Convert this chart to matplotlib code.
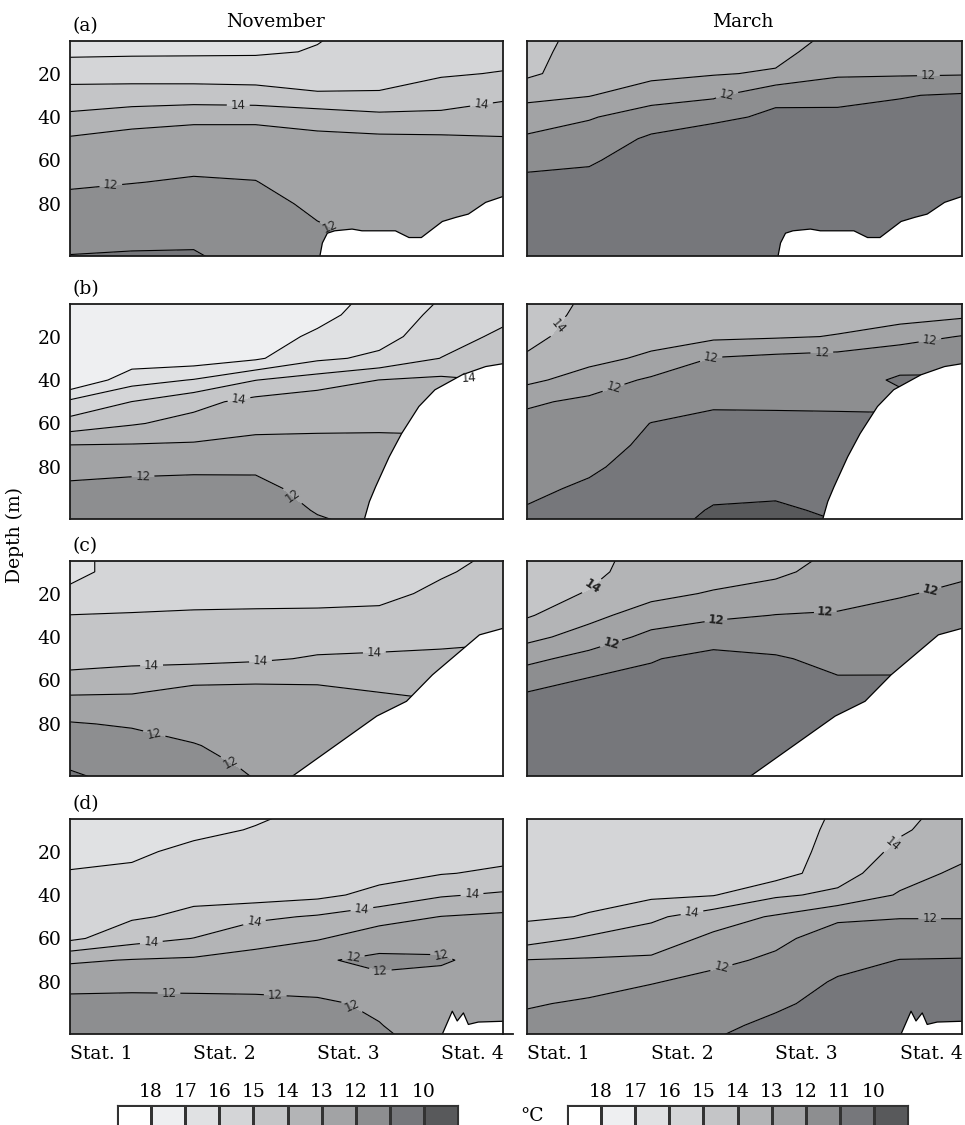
import numpy as np
import matplotlib
matplotlib.use("Agg")
import matplotlib.pyplot as plt
from matplotlib.colors import ListedColormap

plt.rcParams['font.family'] = 'DejaVu Serif'
plt.rcParams['font.size'] = 13.5

# grid: columns every half station, rows every 10 m
columns = [0.75, 1.25, 1.75, 2.25, 2.75, 3.25, 3.75, 4.25]
depths = [0, 10, 20, 30, 40, 50, 60, 70, 80, 90, 100, 110]
stations = [1, 2, 3, 4]
station_names = ["Stat. 1", "Stat. 2", "Stat. 3", "Stat. 4"]
depth_ticks = [20, 40, 60, 80]
levels = [10, 11, 12, 13, 14, 15, 16, 17, 18]
labelled = [12, 14]
# fill shades from <10 up to >18
shades = ['#58595b', '#76777b', '#8d8e90', '#a2a3a5', '#b3b4b6',
          '#c4c5c7', '#d4d5d7', '#e0e1e3', '#eeeff1', '#ffffff']

# temperature (degC), one profile per grid column, surface to 110 m
nov_a = [
    [16.9, 16.2, 15.4, 14.6, 13.8, 12.9, 12.5, 12.1, 11.8, 11.4, 11.1, 10.8],
    [16.9, 16.15, 15.4, 14.55, 13.5, 12.6, 12.3, 12.02, 11.7, 11.35, 11.05, 10.75],
    [16.9, 16.13, 15.42, 14.53, 13.3, 12.45, 12.19, 11.93, 11.63, 11.33, 11.03, 10.75],
    [16.9, 16.11, 15.44, 14.6, 13.3, 12.45, 12.22, 11.98, 11.75, 11.55, 11.35, 11.2],
    [16.1, 15.95, 15.44, 14.9, 13.45, 12.75, 12.55, 12.35, 12.15, 11.96, 11.76, 11.56],
    [15.8, 15.58, 15.35, 14.9, 13.74, 12.8, 12.65, 12.5, 12.35, 12.2, 12.05, 11.9],
    [15.7, 15.4, 15.1, 14.52, 13.77, 12.83, 12.68, 12.53, 12.38, 12.23, 12.08, 11.93],
    [15.7, 15.34, 14.95, 14.18, 13.54, 12.94, 12.8, 12.65, 12.5, 12.35, 12.2, 12.05],
]
mar_a = [
    [14.3, 14.25, 14.2, 13.26, 12.51, 11.86, 11.24, 10.8, 10.6, 10.45, 10.3, 10.15],
    [13.8, 13.65, 13.4, 13.05, 12.08, 11.55, 11.06, 10.85, 10.7, 10.55, 10.4, 10.25],
    [13.7, 13.5, 13.3, 12.4, 11.54, 10.85, 10.75, 10.65, 10.5, 10.4, 10.3, 10.2],
    [13.6, 13.4, 13.07, 12.16, 11.19, 10.55, 10.5, 10.45, 10.4, 10.35, 10.3, 10.25],
    [13.5, 13.3, 12.9, 11.2, 10.85, 10.75, 10.65, 10.55, 10.45, 10.4, 10.35, 10.3],
    [12.9, 12.5, 12.15, 11.25, 10.8, 10.75, 10.7, 10.6, 10.55, 10.5, 10.45, 10.4],
    [12.8, 12.5, 12.12, 11.05, 10.75, 10.7, 10.65, 10.6, 10.55, 10.5, 10.45, 10.4],
    [12.7, 12.45, 12.08, 10.9, 10.75, 10.7, 10.65, 10.6, 10.55, 10.5, 10.45, 10.4],
]
nov_b = [
    [17.8, 17.85, 17.9, 17.9, 17.95, 15.8, 14.62, 12.98, 12.36, 11.8, 11.6, 11.4],
    [17.8, 17.75, 17.7, 17.6, 16.4, 14.99, 14.09, 12.94, 12.25, 11.7, 11.5, 11.3],
    [17.75, 17.7, 17.65, 17.57, 15.95, 14.3, 13.68, 12.89, 12.17, 11.7, 11.5, 11.3],
    [17.7, 17.6, 17.4, 17.15, 15.02, 13.7, 13.29, 12.73, 12.15, 11.75, 11.6, 11.45],
    [17.5, 17.25, 16.85, 16.19, 14.54, 13.4, 13.15, 12.82, 12.56, 12.31, 12.05, 11.8],
    [16.8, 16.6, 16.35, 15.8, 13.99, 13.55, 13.11, 12.85, 12.65, 12.45, 12.25, 12.05],
    [16.05, 15.75, 15.45, 14.98, 13.8, 13.4, 13.1, 12.9, 12.7, 12.5, 12.3, 12.1],
    [15.8, 15.25, 14.8, 14.4, 14.05, 13.6, 13.2, 12.95, 12.75, 12.55, 12.35, 12.15],
]
mar_b = [
    [14.6, 14.45, 14.3, 13.87, 13.24, 12.15, 11.7, 11.55, 11.4, 11.2, 10.93, 10.7],
    [13.9, 13.75, 13.5, 13.32, 12.52, 11.8, 11.6, 11.4, 11.15, 10.85, 10.6, 10.4],
    [13.8, 13.6, 13.4, 12.8, 11.85, 11.45, 10.98, 10.8, 10.6, 10.45, 10.3, 10.2],
    [13.7, 13.5, 13.2, 11.95, 11.55, 11.1, 10.83, 10.6, 10.4, 10.15, 9.95, 9.75],
    [13.6, 13.4, 13.1, 11.75, 11.45, 11.1, 10.85, 10.62, 10.4, 10.13, 9.9, 9.7],
    [13.5, 13.3, 12.96, 11.6, 11.35, 11.08, 10.9, 10.7, 10.5, 10.3, 10.1, 9.9],
    [13.6, 13.45, 12.4, 11.35, 10.9, 11.2, 10.8, 10.6, 10.4, 10.2, 9.98, 9.8],
    [13.4, 13.2, 11.95, 11.3, 10.9, 11.1, 10.8, 10.6, 10.4, 10.2, 9.98, 9.8],
]
nov_c = [
    [16.1, 16.2, 15.85, 14.98, 14.7, 14.4, 13.63, 12.7, 11.93, 11.5, 11.05, 10.65],
    [15.85, 15.7, 15.35, 14.95, 14.6, 14.25, 13.5, 12.7, 12.1, 11.6, 11.3, 11.05],
    [15.85, 15.65, 15.3, 14.9, 14.5, 14.3, 13.1, 12.65, 12.35, 11.95, 11.6, 11.3],
    [15.85, 15.6, 15.28, 14.88, 14.5, 14.15, 13.05, 12.75, 12.55, 12.35, 12.15, 11.9],
    [15.85, 15.6, 15.28, 14.86, 14.45, 13.9, 13.05, 12.8, 12.6, 12.4, 12.2, 12.02],
    [15.8, 15.55, 15.25, 14.8, 14.35, 13.85, 13.3, 12.75, 12.5, 12.3, 12.1, 11.9],
    [15.4, 15.1, 14.8, 14.55, 14.25, 13.8, 13.4, 12.95, 12.7, 12.5, 12.3, 12.1],
    [14.9, 14.7, 14.5, 14.3, 14.1, 13.8, 13.4, 13.05, 12.8, 12.6, 12.4, 12.2],
]
mar_c = [
    [14.6, 14.45, 14.3, 14.1, 13.3, 12.25, 11.4, 10.65, 10.5, 10.4, 10.3, 10.2],
    [14.2, 14.2, 13.95, 13.3, 12.55, 11.65, 10.9, 10.7, 10.55, 10.45, 10.35, 10.25],
    [13.8, 13.6, 13.3, 12.5, 11.75, 11.05, 10.8, 10.65, 10.5, 10.4, 10.3, 10.2],
    [13.7, 13.5, 12.9, 12.2, 11.35, 10.75, 10.6, 10.5, 10.4, 10.35, 10.3, 10.25],
    [13.55, 13.2, 12.6, 11.98, 11.45, 10.9, 10.75, 10.6, 10.5, 10.4, 10.3, 10.25],
    [12.9, 12.6, 12.3, 11.93, 11.6, 11.25, 10.92, 10.75, 10.6, 10.5, 10.4, 10.3],
    [12.8, 12.55, 12.1, 11.6, 11.35, 11.15, 10.95, 10.8, 10.65, 10.55, 10.45, 10.35],
    [12.6, 12.2, 11.75, 11.5, 11.3, 11.1, 10.9, 10.8, 10.65, 10.55, 10.45, 10.35],
]
nov_d = [
    [16.8, 16.55, 16.25, 15.95, 15.7, 15.45, 15.2, 13.15, 12.25, 11.8, 11.55, 11.35],
    [16.8, 16.5, 16.15, 15.85, 15.5, 15.12, 14.4, 12.95, 12.25, 11.75, 11.55, 11.35],
    [16.6, 16.2, 15.8, 15.5, 15.22, 14.8, 13.98, 12.85, 12.28, 11.75, 11.55, 11.35],
    [16.2, 15.95, 15.8, 15.65, 15.45, 14.2, 13.3, 12.7, 12.2, 11.85, 11.6, 11.4],
    [15.9, 15.75, 15.6, 15.45, 15.25, 13.9, 13.08, 12.1, 12.25, 11.9, 11.65, 11.45],
    [15.85, 15.7, 15.5, 15.35, 14.7, 13.4, 12.45, 11.8, 12.2, 12.1, 11.98, 11.8],
    [15.8, 15.6, 15.4, 15.05, 14.1, 12.98, 12.3, 11.9, 12.3, 12.35, 12.3, 12.2],
    [15.75, 15.55, 15.3, 14.85, 13.85, 12.8, 12.5, 12.35, 12.4, 12.4, 12.35, 12.3],
]
mar_d = [
    [15.8, 15.7, 15.6, 15.5, 15.35, 15.15, 14.45, 12.97, 12.55, 12.1, 11.7, 11.3],
    [15.8, 15.65, 15.5, 15.35, 15.2, 14.95, 13.85, 12.9, 12.4, 11.85, 11.5, 11.2],
    [15.8, 15.6, 15.45, 15.3, 15.2, 14.2, 13.5, 12.85, 12.05, 11.6, 11.3, 11.05],
    [15.75, 15.6, 15.45, 15.3, 15.05, 13.45, 12.8, 12.2, 11.75, 11.45, 11.2, 10.9],
    [15.7, 15.62, 15.55, 15.45, 14.15, 12.9, 12.2, 11.85, 11.5, 11.15, 10.8, 10.5],
    [14.9, 14.75, 14.6, 14.4, 13.8, 12.15, 11.6, 11.3, 10.9, 10.7, 10.5, 10.3],
    [14.15, 14.1, 13.8, 13.4, 12.9, 12.05, 11.5, 10.98, 10.75, 10.6, 10.45, 10.3],
    [13.85, 13.6, 13.25, 12.8, 12.45, 12.05, 11.5, 10.95, 10.75, 10.6, 10.45, 10.3],
]

# sea bottom (station units, depth m) for each transect
bed_a_x = [2.77, 2.79, 2.83, 2.89, 3.03, 3.11, 3.38, 3.49, 3.59, 3.76, 3.87, 3.97, 4.11, 4.27]
bed_a_depth = [104, 98, 93.5, 92.4, 91.6, 92.4, 92.4, 95.5, 95.5, 88.1, 86.2, 84.7, 79.3, 76.2]
bed_b_x = [3.13, 3.17, 3.22, 3.33, 3.43, 3.57, 3.70, 3.92, 4.11, 4.27]
bed_b_depth = [104, 96, 89.2, 75.4, 64.7, 52.2, 44.5, 37.6, 33.8, 32.3]
bed_c_x = [2.55, 3.23, 3.47, 3.68, 4.06, 4.27]
bed_c_depth = [104, 76.4, 69.6, 57.4, 39, 35.7]
bed_d_x = [3.76, 3.84, 3.88, 3.93, 3.97, 4.05, 4.27]
bed_d_depth = [104, 93.5, 98, 94.3, 99.6, 98.5, 98.1]

# where the 12 / 14 labels sit on the isotherms
lab_nov_a = [(2.11, 35.5), (4.08, 35.9), (1.08, 71.6), (2.86, 90.0)]
lab_mar_a = [(2.36, 30), (3.98, 21.3)]
lab_nov_b = [(2.12, 50.7), (3.98, 35.4), (1.34, 84.1), (2.56, 92.4)]
lab_mar_b = [(1.09, 20.3), (1.45, 44.4), (2.23, 29.7), (3.12, 23.6), (3.99, 20.7)]
lab_nov_c = [(1.41, 54.6), (2.29, 51.3), (3.21, 46.7), (1.43, 84.8), (2.05, 97.8)]
lab_mar_c = [(1.29, 18.2), (1.42, 41.5), (2.27, 32.4), (3.15, 28.1), (3.99, 17.2)]
lab_nov_d = [(1.41, 63.8), (2.24, 52.3), (3.11, 46.7), (4.0, 40.1), (1.55, 84.7),
             (2.41, 84.7), (3.01, 93.5), (3.04, 68.4), (3.76, 66.4), (3.26, 76.5)]
lab_mar_d = [(2.08, 49.3), (3.73, 19.5), (2.31, 72.3), (3.99, 50.9)]

rows = [
    ('a', nov_a, mar_a, bed_a_x, bed_a_depth, lab_nov_a, lab_mar_a),
    ('b', nov_b, mar_b, bed_b_x, bed_b_depth, lab_nov_b, lab_mar_b),
    ('c', nov_c, mar_c, bed_c_x, bed_c_depth, lab_nov_c, lab_mar_c),
    ('d', nov_d, mar_d, bed_d_x, bed_d_depth, lab_nov_d, lab_mar_d),
]


def section(ax, temps, bed_x, bed_d, lab_pos, bold=False):
    T = np.array(temps).T
    ax.contourf(columns, depths, T, levels=[0] + levels + [40], colors=shades)
    plain = [v for v in levels if v not in labelled]
    ax.contour(columns, depths, T, levels=plain, colors='k', linewidths=0.8)
    cs = ax.contour(columns, depths, T, levels=labelled, colors='k', linewidths=0.8)
    texts = ax.clabel(cs, manual=lab_pos, fmt='%d', fontsize=8.5,
                      inline=True, inline_spacing=4, colors='#222222')
    for t in texts:
        t.set_fontfamily('DejaVu Sans')
        t.set_zorder(6)
        if bold:
            t.set_fontweight('bold')
    ax.fill_between(bed_x, bed_d, 120, facecolor='white', edgecolor='none', zorder=3)
    ax.plot(bed_x, bed_d, color='k', lw=0.9, zorder=4)
    ax.set_xlim(0.75, 4.25)
    ax.set_ylim(104, 5)
    ax.tick_params(length=0)
    for sp in ax.spines.values():
        sp.set_linewidth(1.3)
        sp.set_color('#1a1a1a')
        sp.set_zorder(7)


fig = plt.figure(figsize=(9.65, 11.25), dpi=100)
W, H = 965.0, 1125.0
row_tops = [41, 304, 561, 819]
ph = 215

for i, (letter, nov, mar, bx, bd, ln, lm) in enumerate(rows):
    top = row_tops[i]
    bottom = 1 - (top + ph) / H
    axl = fig.add_axes([70 / W, bottom, 433 / W, ph / H])
    axr = fig.add_axes([527 / W, bottom, 435 / W, ph / H])
    section(axl, nov, bx, bd, ln)
    section(axr, mar, bx, bd, lm, bold=(letter == 'c'))
    axl.set_yticks(depth_ticks)
    axl.tick_params(axis='y', pad=6)
    axr.set_yticks([])
    if i == len(rows) - 1:
        for ax in (axl, axr):
            ax.set_xticks(stations, station_names)
            ax.tick_params(axis='x', pad=8)
        axl.plot([1, 1.022], [0, 0], transform=axl.transAxes, clip_on=False,
                 color='#1a1a1a', lw=1.3)
    else:
        axl.set_xticks([])
        axr.set_xticks([])
    fig.text(72 / W, 1 - (top - 15) / H, '(%s)' % letter, ha='left', va='center')

fig.text(275 / W, 1 - 22 / H, 'November', ha='center', va='center')
fig.text(743 / W, 1 - 22 / H, 'March', ha='center', va='center')
fig.text(15 / W, 1 - 535 / H, 'Depth (m)', rotation=90, ha='center', va='center')


def scale_bar(left_px):
    cax = fig.add_axes([left_px / W, -0.02, 341 / W, 0.0378])
    cax.pcolormesh(np.arange(11), [0, 1], [np.arange(10)],
                   cmap=ListedColormap(shades[::-1]), vmin=-0.5, vmax=9.5,
                   edgecolors='#333333', linewidth=1.0)
    cax.set_xlim(0, 10)
    cax.set_ylim(0, 1)
    cax.set_xticks(range(1, 10), [str(v) for v in levels[::-1]])
    cax.xaxis.tick_top()
    cax.tick_params(length=0, pad=3)
    cax.set_yticks([])
    for sp in cax.spines.values():
        sp.set_color('#333333')


scale_bar(117)
scale_bar(567)
fig.text(532 / W, 1 - 1116 / H, '°C', ha='center', va='center')

fig.savefig('out.png', dpi=100)
